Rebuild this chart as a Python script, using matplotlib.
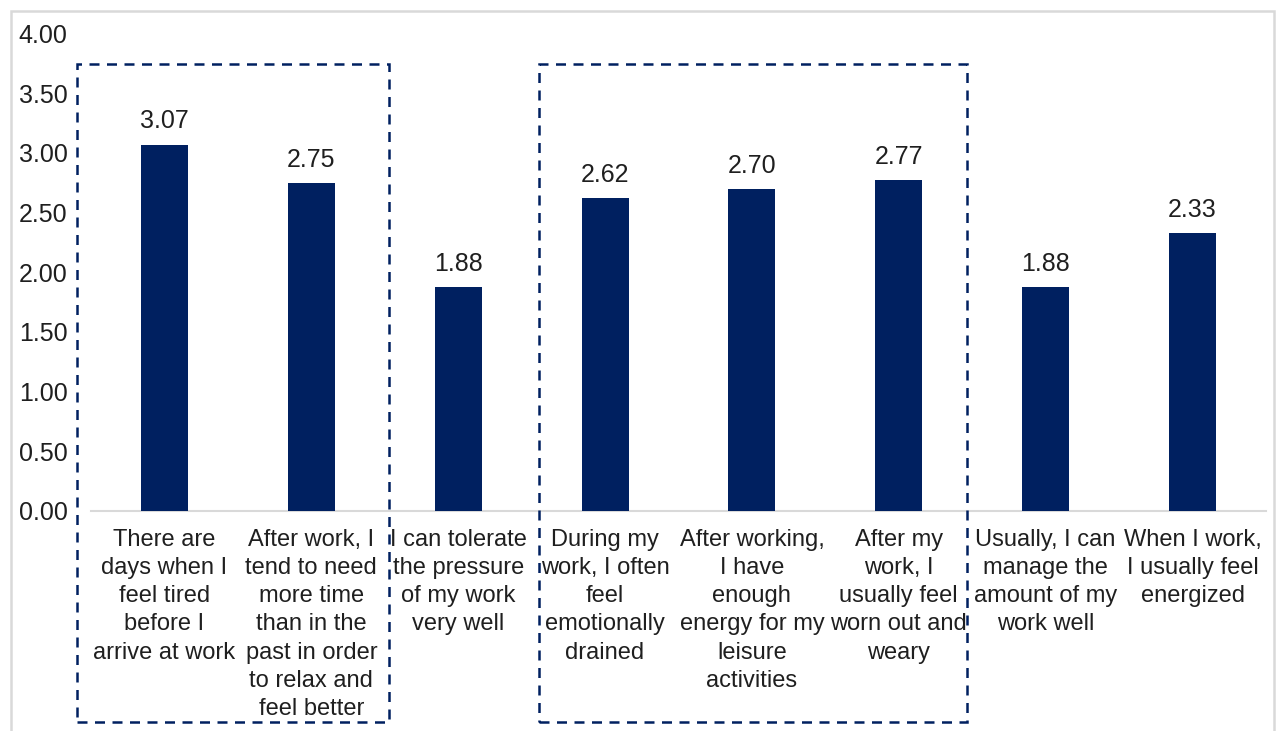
import matplotlib
matplotlib.use("Agg")
import matplotlib.pyplot as plt
from matplotlib.patches import Rectangle

plt.rcParams['font.family'] = ['Liberation Sans', 'DejaVu Sans']

categories = [
    "There are\ndays when I\nfeel tired\nbefore I\narrive at work",
    "After work, I\ntend to need\nmore time\nthan in the\npast in order\nto relax and\nfeel better",
    "I can tolerate\nthe pressure\nof my work\nvery well",
    "During my\nwork, I often\nfeel\nemotionally\ndrained",
    "After working,\nI have\nenough\nenergy for my\nleisure\nactivities",
    "After my\nwork, I\nusually feel\nworn out and\nweary",
    "Usually, I can\nmanage the\namount of my\nwork well",
    "When I work,\nI usually feel\nenergized",
]
scores = [3.07, 2.75, 1.88, 2.62, 2.70, 2.77, 1.88, 2.33]
y_ticks = [0.0, 0.5, 1.0, 1.5, 2.0, 2.5, 3.0, 3.5, 4.0]

navy = "#002060"
text_col = "#1f1f1f"
W, H = 1276, 731

fig = plt.figure(figsize=(W / 100, H / 100), dpi=100)
ax = fig.add_axes([91 / W, 1 - 511 / H, (1266 - 91) / W, (511 - 33.6) / H])

x = list(range(len(scores)))
bars = ax.bar(x, scores, width=0.32, color=navy, zorder=3)

for xi, v in zip(x, scores):
    ax.annotate(f"{v:.2f}", (xi, v), xytext=(0, 8), textcoords="offset points",
                ha="center", va="bottom", fontsize=18, color=text_col)

ax.set_xlim(-0.5, len(scores) - 0.5)
ax.set_ylim(0, 4.0)
ax.set_yticks(y_ticks)
ax.set_yticklabels([f"{t:.2f}" for t in y_ticks], fontsize=18, color=text_col)
ax.set_xticks(x)
ax.set_xticklabels(categories, fontsize=17, color=text_col, linespacing=1.36,
                   multialignment="center")
ax.tick_params(axis="y", length=0, pad=17)
ax.tick_params(axis="x", length=0, pad=13)

for s in ["top", "right", "left"]:
    ax.spines[s].set_visible(False)
ax.spines["bottom"].set_color("#d9d9d9")
ax.spines["bottom"].set_linewidth(1.5)

# outer frame of the chart area
fig.add_artist(Rectangle((11 / W, -0.02), (1274 - 11) / W, 1 - 11 / H + 0.02,
                         transform=fig.transFigure, fill=False,
                         edgecolor="#d9d9d9", linewidth=1.8))

# dashed boxes grouping related statements
for x0, x1 in [(77, 389), (539, 967)]:
    fig.add_artist(Rectangle((x0 / W, 1 - 722 / H), (x1 - x0) / W, (722 - 64) / H,
                             transform=fig.transFigure, fill=False,
                             edgecolor=navy, linewidth=1.8,
                             linestyle=(0, (4, 3)), zorder=5))

fig.savefig("out.png", dpi=100)
